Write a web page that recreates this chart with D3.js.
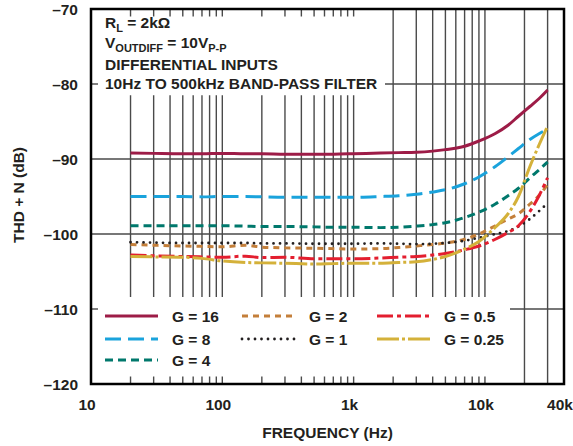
<!DOCTYPE html>
<html><head><meta charset="utf-8">
<script src="https://cdn.jsdelivr.net/npm/d3@7"></script>
<style>
body{margin:0;background:#fff}
svg{display:block}
text{font-family:"Liberation Sans",Arial,Helvetica,sans-serif;font-weight:bold;fill:#231f20;font-size:15.5px}
</style>
</head><body><svg id="c" width="573" height="446"></svg>
<script>
// ---------- data ----------
const freqs = [20, 30, 50, 70, 100, 150, 200, 300, 500, 700, 1000, 1600, 2200, 3000, 4000, 5000, 7000, 9000, 12000, 15000, 18000, 22000, 26000, 30000];
const g16  = [-89.2, -89.25, -89.3, -89.3, -89.25, -89.3, -89.3, -89.35, -89.35, -89.35, -89.3, -89.2, -89.15, -89.1, -88.95, -88.75, -88.3, -87.6, -86.6, -85.5, -84.3, -83.0, -81.9, -80.8];
const g8   = [-95.0, -95.0, -95.0, -95.05, -95.0, -95.0, -95.05, -95.1, -95.1, -95.1, -95.1, -95.0, -94.9, -94.7, -94.4, -94.1, -93.3, -92.4, -91.0, -89.7, -88.6, -87.4, -86.6, -86.0];
const g4   = [-98.9, -98.9, -98.9, -98.9, -98.9, -98.95, -99.0, -99.0, -99.05, -99.1, -99.1, -99.15, -99.1, -98.95, -98.75, -98.5, -97.8, -97.1, -96.0, -94.9, -93.9, -92.5, -91.4, -90.4];
const g2   = [-101.4, -101.5, -101.6, -101.65, -101.7, -101.5, -101.75, -101.85, -101.9, -101.95, -102.0, -101.95, -101.8, -101.6, -101.4, -101.2, -100.7, -100.0, -98.9, -98.0, -97.3, -96.0, -94.8, -93.4];
const g1   = [-101.1, -101.15, -101.2, -101.2, -101.2, -101.2, -101.25, -101.25, -101.3, -101.3, -101.3, -101.25, -101.3, -101.35, -101.3, -101.2, -100.9, -100.5, -100.0, -99.6, -99.0, -98.0, -96.9, -95.9];
const g05  = [-102.8, -102.9, -103.0, -103.05, -103.1, -102.95, -103.15, -103.1, -103.3, -103.3, -103.3, -103.2, -103.1, -103.0, -102.8, -102.6, -102.1, -101.6, -100.7, -99.8, -98.9, -97.0, -94.8, -92.5];
const g025 = [-103.0, -103.05, -103.1, -103.25, -103.6, -103.8, -103.85, -103.9, -104.0, -103.95, -103.9, -103.9, -103.8, -103.7, -103.4, -103.0, -102.0, -101.0, -99.1, -97.3, -95.0, -91.0, -88.0, -85.6];

const seriesNames = ["G = 16", "G = 8", "G = 4", "G = 2", "G = 1", "G = 0.5", "G = 0.25"];
const seriesValues = [g16, g8, g4, g2, g1, g05, g025];

const yTickValues = [-70, -80, -90, -100, -110, -120];
const yTickLabels = ["\u201370", "\u201380", "\u201390", "\u2013100", "\u2013110", "\u2013120"];
const xTickValues = [10, 100, 1000, 10000, 40000];
const xTickLabels = ["10", "100", "1k", "10k", "40k"];
const gridFreqs = [20,30,40,50,60,70,80,90,100,200,300,400,500,600,700,800,900,1000,
                   2000,3000,4000,5000,6000,7000,8000,9000,10000,20000,30000];

// ---------- styles ----------
const styles = [
  {color:"#9d1c47", dash:null},
  {color:"#1aa3dc", dash:"16,7"},
  {color:"#00786c", dash:"8,5"},
  {color:"#c47f3a", dash:"6,5"},
  {color:"#231f20", dash:"0,6.5", cap:"round", width:2.8},
  {color:"#e31e2f", dash:"16,4,4,4"},
  {color:"#d4b13a", dash:"22,3,3,3"}
];

const L = 91, R = 564, T = 9, B = 384;
const svg = d3.select("#c");
const x = d3.scaleLog().domain([10, 40000]).range([L, R]);
const y = d3.scaleLinear().domain([-120, -70]).range([B, T]);

// ---------- grid ----------
const gridG = svg.append("g").attr("stroke", "#4a4a4a").attr("stroke-width", 1.4);
gridFreqs.forEach(f => {
  let segs;
  if (f <= 1000) segs = [[-70, -71], [-81.5, -108.4], [-119, -120]];
  else if (f <= 10000) segs = [[-70, -108.4], [-119, -120]];
  else segs = [[-70, -120]];
  segs.forEach(s => {
    gridG.append("line").attr("x1", x(f)).attr("x2", x(f)).attr("y1", y(s[0])).attr("y2", y(s[1]));
  });
});
const hSegs = {"-80": [[L, L + 7], [385, R]], "-90": [[L, R]], "-100": [[L, R]], "-110": [[L, L + 7], [510, R]]};
Object.keys(hSegs).forEach(k => {
  hSegs[k].forEach(s => {
    gridG.append("line").attr("x1", s[0]).attr("x2", s[1]).attr("y1", y(+k)).attr("y2", y(+k));
  });
});

// ---------- curves ----------
const line = d3.line().x((d, i) => x(freqs[i])).y(d => y(d)).curve(d3.curveMonotoneX);
seriesValues.forEach((vals, i) => {
  const st = styles[i];
  svg.append("path").datum(vals).attr("d", line)
    .attr("fill", "none").attr("stroke", st.color)
    .attr("stroke-width", st.width || 3)
    .attr("stroke-dasharray", st.dash)
    .attr("stroke-linecap", st.cap || "butt");
});

// ---------- frame ----------
svg.append("rect").attr("x", L).attr("y", T).attr("width", R - L).attr("height", B - T)
  .attr("fill", "none").attr("stroke", "#000").attr("stroke-width", 2.5);

// ---------- axes labels ----------
yTickValues.forEach((v, i) => {
  svg.append("text").attr("x", 78).attr("y", y(v) + 5.5).attr("text-anchor", "end").text(yTickLabels[i]);
});
xTickValues.forEach((v, i) => {
  svg.append("text").attr("x", x(v) - 4).attr("y", 410).attr("text-anchor", "middle").text(xTickLabels[i]);
});
svg.append("text").attr("x", (L + R) / 2).attr("y", 438).attr("text-anchor", "middle").text("FREQUENCY (Hz)");
svg.append("text").attr("transform", "translate(24,195) rotate(-90)").attr("text-anchor", "middle").text("THD + N (dB)");

// ---------- annotation ----------
const a1 = svg.append("text").attr("x", 105).attr("y", 28);
a1.append("tspan").text("R");
a1.append("tspan").attr("dy", 4).style("font-size", "11px").text("L");
a1.append("tspan").attr("dy", -4).text(" = 2k\u03A9");
const a2 = svg.append("text").attr("x", 105).attr("y", 48);
a2.append("tspan").text("V");
a2.append("tspan").attr("dy", 4).style("font-size", "11px").text("OUTDIFF");
a2.append("tspan").attr("dy", -4).text(" = 10V");
a2.append("tspan").attr("dy", 4).style("font-size", "11px").text("P-P");
svg.append("text").attr("x", 105).attr("y", 70).text("DIFFERENTIAL INPUTS");
svg.append("text").attr("x", 105).attr("y", 89).text("10Hz TO 500kHz BAND-PASS FILTER");

// ---------- legend ----------
const legendPos = [[105, 316], [105, 339], [105, 360], [242, 316], [242, 339], [377, 316], [377, 339]];
seriesNames.forEach((name, i) => {
  const st = styles[i];
  const p = legendPos[i];
  svg.append("line").attr("x1", p[0]).attr("x2", p[0] + 53).attr("y1", p[1]).attr("y2", p[1])
    .attr("stroke", st.color).attr("stroke-width", st.width || 3)
    .attr("stroke-dasharray", st.dash).attr("stroke-linecap", st.cap || "butt");
  svg.append("text").attr("x", p[0] + 67).attr("y", p[1] + 5.5).text(name);
});
</script>
</body></html>
